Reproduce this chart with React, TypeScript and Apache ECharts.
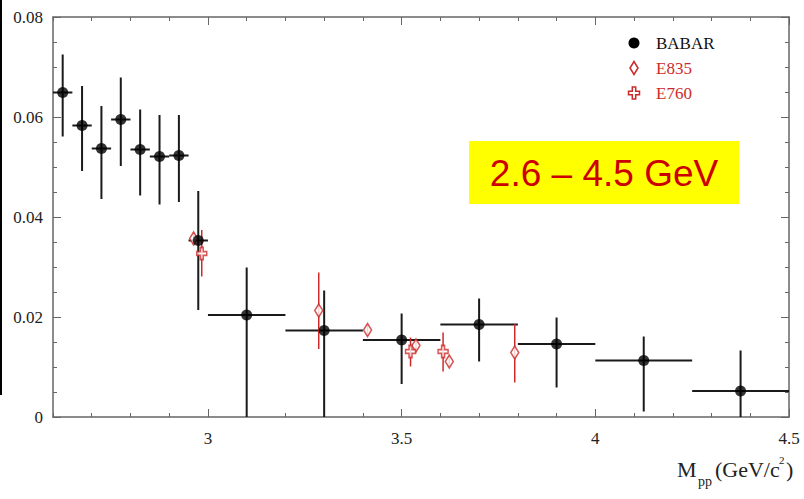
import React, { useEffect, useRef } from "react";
import * as echarts from "echarts";

// BABAR points: bin centres, values, error-bar extent and bin edges
const babarX = [2.625, 2.675, 2.725, 2.775, 2.825, 2.875, 2.925, 2.975, 3.1, 3.3, 3.5, 3.7, 3.9, 4.125, 4.375];
const babarY = [0.0649, 0.0583, 0.0537, 0.0595, 0.0535, 0.0521, 0.0523, 0.0353, 0.0204, 0.0173, 0.0154, 0.0185, 0.0146, 0.0113, 0.0052];
const babarLo = [0.0561, 0.0492, 0.0436, 0.0502, 0.0443, 0.0425, 0.043, 0.0214, 0, 0, 0.0066, 0.0111, 0.0059, 0.0011, 0];
const babarHi = [0.0725, 0.0662, 0.0622, 0.0679, 0.0615, 0.0604, 0.0604, 0.0452, 0.0299, 0.0253, 0.0207, 0.0237, 0.0199, 0.0161, 0.0133];
const babarBinLo = [2.6, 2.65, 2.7, 2.75, 2.8, 2.85, 2.9, 2.95, 3.0, 3.2, 3.4, 3.6, 3.8, 4.0, 4.25];
const babarBinHi = [2.65, 2.7, 2.75, 2.8, 2.85, 2.9, 2.95, 3.0, 3.2, 3.4, 3.6, 3.8, 4.0, 4.25, 4.5];

// E835 points
const e835X = [2.963, 3.286, 3.412, 3.537, 3.623, 3.792];
const e835Y = [0.0357, 0.0213, 0.0174, 0.0143, 0.0111, 0.0129];
const e835Lo = [0.0345, 0.0136, 0.0163, 0.0132, 0.01, 0.0069];
const e835Hi = [0.0369, 0.0289, 0.0185, 0.0154, 0.0122, 0.0186];

// E760 points
const e760X = [2.984, 3.523, 3.607];
const e760Y = [0.0327, 0.0131, 0.0131];
const e760Lo = [0.0281, 0.0101, 0.0091];
const e760Hi = [0.0374, 0.0159, 0.0169];

// Axis ticks
const xMajorTicks = [3, 3.5, 4, 4.5];
const xMinorTicks: number[] = [];
for (let i = 26; i <= 45; i++) {
  const v = i / 10;
  if (!xMajorTicks.some((m) => Math.abs(m - v) < 1e-9)) xMinorTicks.push(v);
}

const legendNames = ["BABAR", "E835", "E760"];
const rangeLabel = "2.6 – 4.5 GeV";

const RED = "#cc2a2a";
const AXIS = "#666";
const SERIF = "'Liberation Serif', 'DejaVu Serif', serif";

const plusPath =
  "path://M3.5,0 L6.5,0 L6.5,3.5 L10,3.5 L10,6.5 L6.5,6.5 L6.5,10 L3.5,10 L3.5,6.5 L0,6.5 L0,3.5 L3.5,3.5 Z";

function errorSeries(
  name: string,
  xs: number[],
  lo: number[],
  hi: number[],
  ys: number[],
  x0: number[] | null,
  x1: number[] | null,
  color: string,
  width: number
) {
  const data = xs.map((x, i) => [x, ys[i], lo[i], hi[i], x0 ? x0[i] : x, x1 ? x1[i] : x]);
  return {
    type: "custom",
    name: name + "-err",
    xAxisIndex: 0,
    yAxisIndex: 0,
    clip: true,
    silent: true,
    z: 2,
    encode: { x: [0, 4, 5], y: [1, 2, 3] },
    data,
    renderItem: (_params: any, api: any) => {
      const x = api.value(0);
      const y = api.value(1);
      const a = api.coord([x, api.value(2)]);
      const b = api.coord([x, api.value(3)]);
      const children: any[] = [
        {
          type: "line",
          shape: { x1: a[0], y1: a[1], x2: b[0], y2: b[1] },
          style: { stroke: color, lineWidth: width },
        },
      ];
      const l = api.value(4);
      const r = api.value(5);
      if (r > l) {
        const p = api.coord([l, y]);
        const q = api.coord([r, y]);
        children.push({
          type: "line",
          shape: { x1: p[0], y1: p[1], x2: q[0], y2: q[1] },
          style: { stroke: color, lineWidth: width },
        });
      }
      return { type: "group", children };
    },
  };
}

function xAxisDef(position: string, ticks: number[], len: number, labels: boolean, line: boolean) {
  return {
    type: "value",
    position,
    min: 2.6,
    max: 4.5,
    gridIndex: 0,
    axisLine: { show: line, onZero: false, lineStyle: { color: AXIS, width: 1.5 } },
    axisTick: {
      show: true,
      inside: true,
      length: len,
      customValues: ticks,
      lineStyle: { color: AXIS, width: 1 },
    },
    axisLabel: labels
      ? {
          show: true,
          customValues: xMajorTicks,
          formatter: (v: number) => String(v),
          fontFamily: SERIF,
          fontSize: 17,
          color: "#222",
          margin: 13,
        }
      : { show: false },
    splitLine: { show: false },
  };
}

function yAxisDef(position: string, labels: boolean) {
  return {
    type: "value",
    position,
    min: 0,
    max: 0.08,
    interval: 0.02,
    gridIndex: 0,
    axisLine: { show: true, onZero: false, lineStyle: { color: AXIS, width: 1.5 } },
    axisTick: { show: true, inside: true, length: 8, lineStyle: { color: AXIS, width: 1 } },
    minorTick: { show: true, splitNumber: 4, length: 4, lineStyle: { color: AXIS, width: 1 } },
    axisLabel: labels
      ? {
          show: true,
          formatter: (v: number) => (v === 0 ? "0" : v.toFixed(2)),
          fontFamily: SERIF,
          fontSize: 17,
          color: "#222",
          margin: 10,
        }
      : { show: false },
    splitLine: { show: false },
    minorSplitLine: { show: false },
  };
}

export default function App() {
  const ref = useRef<HTMLDivElement>(null);

  useEffect(() => {
    if (!ref.current) return;
    const chart = echarts.init(ref.current, null, { renderer: "svg" });

    const legendY = [43, 68, 93];
    const legendColors = ["#111", RED, RED];

    chart.setOption({
      animation: false,
      backgroundColor: "#fff",
      grid: { left: 53, right: 15, top: 17, bottom: 82, containLabel: false },
      xAxis: [
        xAxisDef("bottom", xMajorTicks, 8, true, true),
        xAxisDef("bottom", xMinorTicks, 4, false, false),
        xAxisDef("top", xMajorTicks, 8, false, true),
        xAxisDef("top", xMinorTicks, 4, false, false),
      ],
      yAxis: [yAxisDef("left", true), yAxisDef("right", false)],
      series: [
        errorSeries("BABAR", babarX, babarLo, babarHi, babarY, babarBinLo, babarBinHi, "#1a1a1a", 2),
        errorSeries("E835", e835X, e835Lo, e835Hi, e835Y, null, null, RED, 1.5),
        errorSeries("E760", e760X, e760Lo, e760Hi, e760Y, null, null, RED, 1.5),
        {
          type: "scatter",
          name: "BABAR",
          xAxisIndex: 0,
          yAxisIndex: 0,
          symbol: "circle",
          symbolSize: 11,
          itemStyle: { color: "#000" },
          z: 5,
          data: babarX.map((x, i) => [x, babarY[i]]),
        },
        {
          type: "scatter",
          name: "E835",
          xAxisIndex: 0,
          yAxisIndex: 0,
          symbol: "diamond",
          symbolSize: [8, 13],
          itemStyle: { color: "#fff", borderColor: RED, borderWidth: 1.6 },
          z: 4,
          data: e835X.map((x, i) => [x, e835Y[i]]),
        },
        {
          type: "scatter",
          name: "E760",
          xAxisIndex: 0,
          yAxisIndex: 0,
          symbol: plusPath,
          symbolSize: [10, 12],
          symbolKeepAspect: false,
          itemStyle: { color: "#fff", borderColor: RED, borderWidth: 1.6 },
          z: 4,
          data: e760X.map((x, i) => [x, e760Y[i]]),
        },
      ],
      graphic: [
        // dark edge along the left border
        { type: "rect", shape: { x: 0, y: 0, width: 2, height: 395 }, style: { fill: "#000" }, silent: true },
        // legend
        { type: "circle", shape: { cx: 634, cy: legendY[0], r: 5.5 }, style: { fill: "#000" } },
        {
          type: "polygon",
          shape: { points: [[634, legendY[1] - 6.5], [638, legendY[1]], [634, legendY[1] + 6.5], [630, legendY[1]]] },
          style: { fill: "#fff", stroke: RED, lineWidth: 1.5 },
        },
        {
          type: "polygon",
          shape: {
            points: [
              [632.3, 87], [635.7, 87], [635.7, 91.3], [639.5, 91.3], [639.5, 94.7], [635.7, 94.7],
              [635.7, 99], [632.3, 99], [632.3, 94.7], [628.5, 94.7], [628.5, 91.3], [632.3, 91.3],
            ],
          },
          style: { fill: "#fff", stroke: RED, lineWidth: 1.5 },
        },
        ...legendNames.map((n, i) => ({
          type: "text",
          x: 656,
          y: legendY[i],
          style: {
            text: n,
            fill: legendColors[i],
            font: `17px ${SERIF}`,
            verticalAlign: "middle",
            align: "left",
          },
        })),
        // energy range box
        { type: "rect", shape: { x: 469, y: 141, width: 270, height: 63 }, style: { fill: "#ffff00" } },
        {
          type: "text",
          x: 604,
          y: 173,
          style: {
            text: rangeLabel,
            fill: "#cc0000",
            font: "37px 'Liberation Sans', Arial, sans-serif",
            align: "center",
            verticalAlign: "middle",
          },
        },
        // axis title M_pp (GeV/c^2)
        { type: "text", x: 677, y: 469, style: { text: "M", fill: "#222", font: `22px ${SERIF}`, verticalAlign: "middle" } },
        { type: "text", x: 698, y: 481, style: { text: "pp", fill: "#222", font: `14px ${SERIF}`, verticalAlign: "middle" } },
        { type: "text", x: 715, y: 469, style: { text: "(GeV/c", fill: "#222", font: `22px ${SERIF}`, verticalAlign: "middle" } },
        { type: "text", x: 779, y: 460, style: { text: "2", fill: "#222", font: `11px ${SERIF}`, verticalAlign: "middle" } },
        { type: "text", x: 786, y: 469, style: { text: ")", fill: "#222", font: `22px ${SERIF}`, verticalAlign: "middle" } },
      ],
    });

    return () => chart.dispose();
  }, []);

  return (
    <div
      ref={ref}
      style={{ position: "fixed", left: 0, top: 0, width: 804, height: 499, background: "#fff" }}
    />
  );
}
